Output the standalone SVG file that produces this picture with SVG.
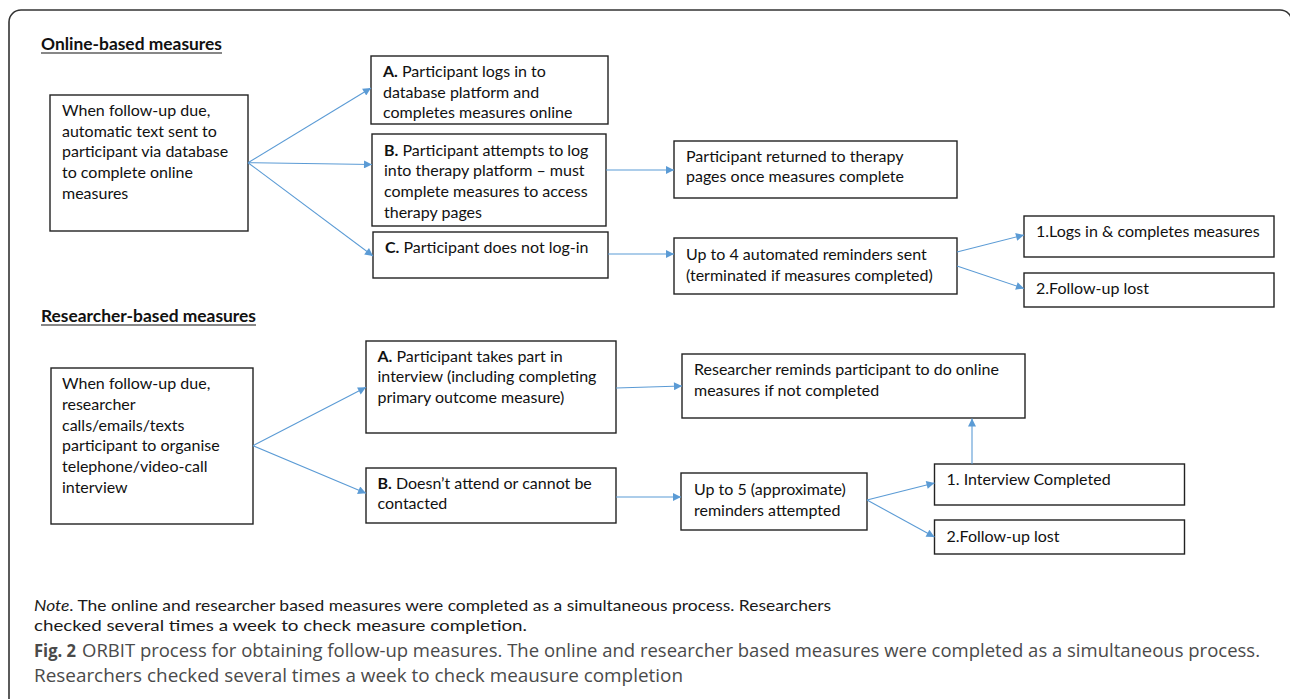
<svg xmlns="http://www.w3.org/2000/svg" width="1290" height="699" viewBox="0 0 1290 699">
<defs>
<marker id="ah" viewBox="0 0 10 10" refX="10" refY="5" markerWidth="10" markerHeight="8" markerUnits="userSpaceOnUse" orient="auto">
<path d="M0,0 L10,5 L0,10 z" fill="#5B9BD5"/>
</marker>
<style>
.box{fill:#fff;stroke:#222;stroke-width:1.4}
.t{font-family:Lato,"Liberation Sans",sans-serif;font-size:16px;fill:#111}
.b{font-weight:bold}
.h{font-family:Lato,"Liberation Sans",sans-serif;font-size:17px;font-weight:bold;fill:#111}
.ul{stroke:#111;stroke-width:1.2}
.c{stroke:#5B9BD5;stroke-width:1.1;fill:none;marker-end:url(#ah)}
.note{font-family:Lato,"Liberation Sans",sans-serif;font-size:15px;fill:#1a1a1a}
.cap{font-family:"Open Sans","Noto Sans",sans-serif;font-size:18.5px;fill:#4a4a4a}
</style>
</defs>
<rect width="1290" height="699" fill="#fff"/>
<path d="M9,699 L9,22 A12,12 0 0 1 21,10 L1280,10 A12,12 0 0 1 1292,22" fill="none" stroke="#333" stroke-width="1.6"/>

<g id="title-online">
<text class="h" x="41" y="50" textLength="181" lengthAdjust="spacingAndGlyphs">Online-based measures</text>
<line class="ul" x1="41" y1="53" x2="222" y2="53"/>
</g>
<g id="n-online-start">
<rect class="box" x="50" y="95" width="198" height="136"/>
<text class="t" x="62" y="116">When follow-up due,</text>
<text class="t" x="62" y="136.7">automatic text sent to</text>
<text class="t" x="62" y="157.4">participant via database</text>
<text class="t" x="62" y="178.1">to complete online</text>
<text class="t" x="62" y="198.8">measures</text>
</g>
<g id="n-online-a">
<rect class="box" x="371" y="56" width="237" height="68"/>
<text class="t" x="383" y="77.3"><tspan class="b">A.</tspan> Participant logs in to</text>
<text class="t" x="383" y="97.8">database platform and</text>
<text class="t" x="383" y="118.3">completes measures online</text>
</g>
<g id="n-online-b">
<rect class="box" x="372" y="134" width="234" height="92"/>
<text class="t" x="384" y="155.7"><tspan class="b">B.</tspan> Participant attempts to log</text>
<text class="t" x="384" y="176.3">into therapy platform – must</text>
<text class="t" x="384" y="196.9">complete measures to access</text>
<text class="t" x="384" y="217.5">therapy pages</text>
</g>
<g id="n-online-c">
<rect class="box" x="373" y="232" width="235" height="46"/>
<text class="t" x="385" y="253.3"><tspan class="b">C.</tspan> Participant does not log-in</text>
</g>
<g id="n-returned">
<rect class="box" x="674" y="141" width="283" height="57"/>
<text class="t" x="686" y="161.7">Participant returned to therapy</text>
<text class="t" x="686" y="182.3">pages once measures complete</text>
</g>
<g id="n-up4">
<rect class="box" x="674" y="238" width="283" height="56"/>
<text class="t" x="686" y="260">Up to 4 automated reminders sent</text>
<text class="t" x="686" y="280.7">(terminated if measures completed)</text>
</g>
<g id="n-logs">
<rect class="box" x="1024" y="216" width="250" height="41"/>
<text class="t" x="1036" y="237">1.Logs in &amp; completes measures</text>
</g>
<g id="n-lost1">
<rect class="box" x="1024" y="273" width="250" height="34"/>
<text class="t" x="1036" y="293.5">2.Follow-up lost</text>
</g>

<g id="title-researcher">
<text class="h" x="41" y="321.7" textLength="215" lengthAdjust="spacingAndGlyphs">Researcher-based measures</text>
<line class="ul" x1="41" y1="325" x2="256" y2="325"/>
</g>
<g id="n-res-start">
<rect class="box" x="51" y="368" width="202" height="156"/>
<text class="t" x="62" y="389.3">When follow-up due,</text>
<text class="t" x="62" y="410">researcher</text>
<text class="t" x="62" y="430.7">calls/emails/texts</text>
<text class="t" x="62" y="451.4">participant to organise</text>
<text class="t" x="62" y="472.1">telephone/video-call</text>
<text class="t" x="62" y="492.8">interview</text>
</g>
<g id="n-res-a">
<rect class="box" x="366" y="341" width="250" height="92"/>
<text class="t" x="377.5" y="361.7"><tspan class="b">A.</tspan> Participant takes part in</text>
<text class="t" x="377.5" y="382.4">interview (including completing</text>
<text class="t" x="377.5" y="403.1">primary outcome measure)</text>
</g>
<g id="n-res-b">
<rect class="box" x="366" y="468" width="250" height="55"/>
<text class="t" x="377.5" y="488.5"><tspan class="b">B.</tspan> Doesn’t attend or cannot be</text>
<text class="t" x="377.5" y="508.8">contacted</text>
</g>
<g id="n-reminds">
<rect class="box" x="682" y="354" width="343" height="64"/>
<text class="t" x="694" y="375">Researcher reminds participant to do online</text>
<text class="t" x="694" y="395.7">measures if not completed</text>
</g>
<g id="n-up5">
<rect class="box" x="681" y="473" width="186" height="57"/>
<text class="t" x="694" y="495">Up to 5 (approximate)</text>
<text class="t" x="694" y="515.5">reminders attempted</text>
</g>
<g id="n-interview">
<rect class="box" x="934.5" y="464" width="250" height="41"/>
<text class="t" x="946.5" y="485">1. Interview Completed</text>
</g>
<g id="n-lost2">
<rect class="box" x="934.5" y="520" width="250" height="34"/>
<text class="t" x="946.5" y="541.7">2.Follow-up lost</text>
</g>

<g id="connectors">
<line class="c" x1="248" y1="162.7" x2="371" y2="88"/>
<line class="c" x1="248" y1="162.7" x2="372" y2="164.5"/>
<line class="c" x1="248" y1="162.7" x2="373" y2="256"/>
<line class="c" x1="606" y1="170" x2="674" y2="170"/>
<line class="c" x1="608" y1="254" x2="674" y2="254"/>
<line class="c" x1="957" y1="252" x2="1024" y2="235"/>
<line class="c" x1="957" y1="266" x2="1024" y2="288.5"/>
<line class="c" x1="253" y1="445.7" x2="366" y2="387.3"/>
<line class="c" x1="253" y1="445.7" x2="366" y2="493.3"/>
<line class="c" x1="616" y1="388" x2="682" y2="386"/>
<line class="c" x1="616" y1="497" x2="681" y2="497"/>
<line class="c" x1="867" y1="500" x2="934.5" y2="483"/>
<line class="c" x1="867" y1="500" x2="934.5" y2="537"/>
<line class="c" x1="972" y1="464" x2="972" y2="418.5"/>
</g>

<g id="note">
<text class="note" x="34" y="611" textLength="797" lengthAdjust="spacingAndGlyphs"><tspan font-style="italic">Note</tspan>. The online and researcher based measures were completed as a simultaneous process. Researchers</text>
<text class="note" x="34" y="631" textLength="493" lengthAdjust="spacingAndGlyphs">checked several times a week to check measure completion.</text>
</g>
<g id="caption">
<text class="cap" x="34" y="657" font-weight="bold" fill="#111" textLength="42" lengthAdjust="spacingAndGlyphs">Fig. 2</text>
<text class="cap" x="82" y="657" textLength="1178" lengthAdjust="spacingAndGlyphs">ORBIT process for obtaining follow-up measures. The online and researcher based measures were completed as a simultaneous process.</text>
<text class="cap" x="34" y="682" textLength="649" lengthAdjust="spacingAndGlyphs">Researchers checked several times a week to check meausure completion</text>
</g>
</svg>
